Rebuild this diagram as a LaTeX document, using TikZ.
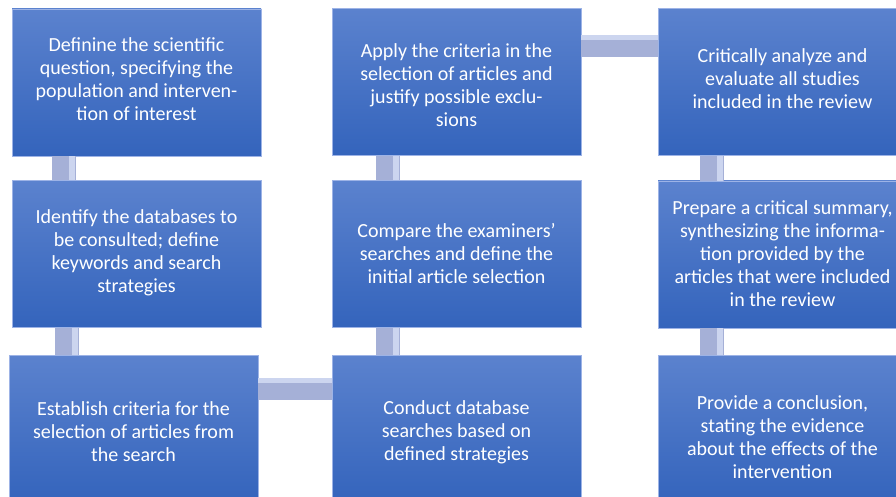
\documentclass[tikz,border=0pt]{standalone}
\usepackage{fontspec}
\setmainfont{Carlito}
\definecolor{boxtop}{HTML}{5B82CE}
\definecolor{boxbot}{HTML}{3464BC}
\definecolor{boxedge}{HTML}{9DB3E6}
\definecolor{linkbase}{HTML}{A5B0D7}
\definecolor{linklight}{HTML}{D3DCF4}
\begin{document}
\begin{tikzpicture}[x=1pt,y=-1pt,
  stepbox/.style={rectangle, draw=boxedge, line width=0.8pt,
    top color=boxtop, bottom color=boxbot,
    minimum width=249pt, minimum height=147pt, inner sep=0pt},
  steptext/.style={text=white, align=center, inner sep=0pt,
    font=\fontsize{20}{23}\selectfont},
  linkfill/.style={fill=linkbase},
  linkshine/.style={fill=linklight, opacity=0.85}]
\useasboundingbox (0,0) rectangle (896,497);
\clip (0,0) rectangle (896,497);

% boxes
\node[stepbox] (s1) at (136.5,82.5) {};
\node[stepbox] (s2) at (136.5,254) {};
\node[stepbox] (s3) at (133.5,429) {};
\node[stepbox] (s4) at (456.5,82) {};
\node[stepbox] (s5) at (456.5,254) {};
\node[stepbox] (s6) at (456.5,429) {};
\node[stepbox] (s7) at (782.5,82) {};
\node[stepbox] (s8) at (782.5,254.5) {};
\node[stepbox] (s9) at (782.5,429) {};

% texts of the steps
\node[steptext] (t1) at ([yshift=3pt]s1.center) {Definine the scientific\\question, specifying the\\population and interven-\\tion of interest};
\node[steptext] (t2) at ([yshift=1pt]s2.center) {Identify the databases to\\be consulted; define\\keywords and search\\strategies};
\node[steptext] (t3) at ([yshift=-3pt]s3.center) {Establish criteria for the\\selection of articles from\\the search};
\node[steptext] (t4) at ([yshift=-3pt]s4.center) {Apply the criteria in the\\selection of articles and\\justify possible exclu-\\sions};
\node[steptext] (t5) at (s5.center) {Compare the examiners\char39\\searches and define the\\initial article selection};
\node[steptext] (t6) at ([yshift=-3pt]s6.center) {Conduct database\\searches based on\\defined strategies};
\node[steptext] (t7) at ([yshift=3pt]s7.center) {Critically analyze and\\evaluate all studies\\included in the review};
\node[steptext] (t8) at ([yshift=1pt]s8.center) {Prepare a critical summary,\\synthesizing the informa-\\tion provided by the\\articles that were included\\in the review};
\node[steptext] (t9) at ([yshift=-8pt]s9.center) {Provide a conclusion,\\stating the evidence\\about the effects of the\\intervention};

% vertical links inside each column
\foreach \a/\b/\o in {s1/s2/40, s2/s3/43, s4/s5/44, s5/s6/44, s7/s8/42, s8/s9/42}{
  \fill[linkfill] ([xshift=\o pt]\a.south west) rectangle ([xshift=\o pt+24pt]\b.north west -| \a.south west);
  \fill[linkshine] ([xshift=\o pt+17pt]\a.south west) rectangle ([xshift=\o pt+23pt]\b.north west -| \a.south west);
}

% horizontal links between columns
\fill[linkfill] ([yshift=-27pt]s4.north east) rectangle ([yshift=-49pt]s7.north west);
\fill[linkshine] ([yshift=-27pt]s4.north east) rectangle ([yshift=-32pt]s7.north west);
\fill[linkfill] ([yshift=-23pt]s3.north east) rectangle ([yshift=-45pt]s6.north west);
\fill[linkshine] ([yshift=-23pt]s3.north east) rectangle ([yshift=-28pt]s6.north west);
\end{tikzpicture}
\end{document}
